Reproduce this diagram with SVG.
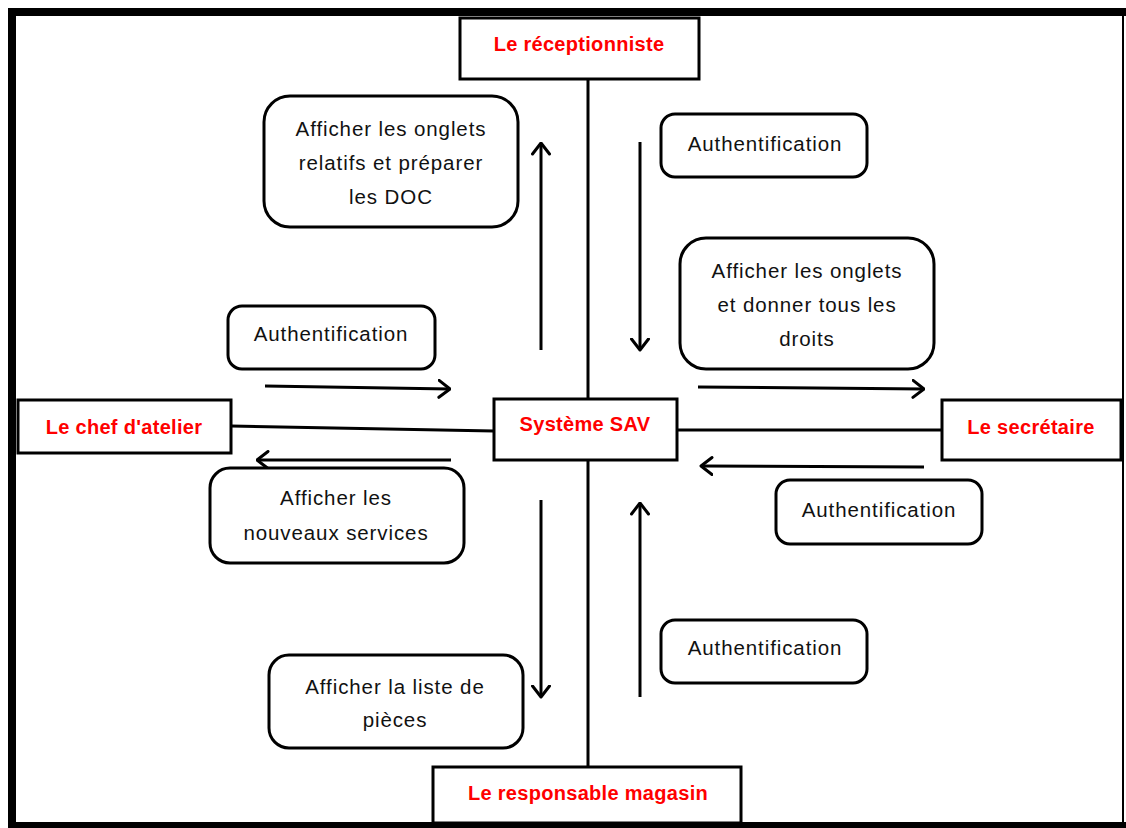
<svg xmlns="http://www.w3.org/2000/svg" width="1126" height="828" viewBox="0 0 1126 828">
  <style>
    .actor { fill: #ffffff; stroke: #000000; stroke-width: 3; }
    .msg { fill: #ffffff; stroke: #000000; stroke-width: 3; }
    .actor-label { font-family: "Liberation Sans", Arial, sans-serif; font-size: 20px; font-weight: bold; fill: #ff0000; text-anchor: middle; dominant-baseline: central; letter-spacing: 0.3px; }
    .msg-label { font-family: "Liberation Sans", Arial, sans-serif; font-size: 20.5px; fill: #111111; text-anchor: middle; letter-spacing: 0.9px; }
    .link { stroke: #000000; stroke-width: 3; fill: none; }
    .flow { stroke: #000000; stroke-width: 3; fill: none; marker-end: url(#open-arrow); }
  </style>
  <defs>
    <marker id="open-arrow" viewBox="0 0 14 20" refX="12.5" refY="10" markerWidth="14" markerHeight="20" markerUnits="userSpaceOnUse" orient="auto">
      <path d="M1.5,1.5 L12.5,10 L1.5,18.5" fill="none" stroke="#000000" stroke-width="3" stroke-linecap="round" stroke-linejoin="round"/>
    </marker>
  </defs>

  <!-- page background and frame -->
  <rect x="0" y="0" width="1126" height="828" fill="#ffffff"/>
  <rect x="8" y="8" width="1118" height="8" fill="#000000"/>
  <rect x="8" y="8" width="8" height="820" fill="#000000"/>
  <rect x="8" y="822" width="1118" height="6" fill="#000000"/>
  <rect x="1122" y="8" width="2" height="820" fill="#000000"/>

  <!-- connectors -->
  <g id="connectors">
    <line class="link" x1="588" y1="79" x2="588" y2="399"/>
    <line class="link" x1="588" y1="460" x2="588" y2="767"/>
    <line class="link" x1="231" y1="426" x2="494" y2="431"/>
    <line class="link" x1="677" y1="430" x2="942" y2="430"/>

    <line class="flow" x1="541" y1="350" x2="541" y2="143"/>
    <line class="flow" x1="640" y1="142" x2="640" y2="350"/>
    <line class="flow" x1="265" y1="386" x2="450" y2="389"/>
    <line class="flow" x1="451" y1="460" x2="257" y2="460"/>
    <line class="flow" x1="698" y1="387" x2="924" y2="389"/>
    <line class="flow" x1="924" y1="467" x2="701" y2="466"/>
    <line class="flow" x1="541" y1="500" x2="541" y2="697"/>
    <line class="flow" x1="640" y1="697" x2="640" y2="503"/>
  </g>

  <!-- actors -->
  <g id="receptionniste">
    <rect class="actor" x="460" y="18" width="239" height="61"/>
    <text class="actor-label" x="579" y="44">Le réceptionniste</text>
  </g>
  <g id="systeme-sav">
    <rect class="actor" x="494" y="399" width="183" height="61"/>
    <text class="actor-label" x="585" y="424">Système SAV</text>
  </g>
  <g id="chef-atelier">
    <rect class="actor" x="18" y="400" width="213" height="53"/>
    <text class="actor-label" x="124" y="427">Le chef d'atelier</text>
  </g>
  <g id="secretaire">
    <rect class="actor" x="942" y="400" width="179" height="60"/>
    <text class="actor-label" x="1031" y="427">Le secrétaire</text>
  </g>
  <g id="responsable-magasin">
    <rect class="actor" x="433" y="767" width="308" height="56"/>
    <text class="actor-label" x="588" y="793">Le responsable magasin</text>
  </g>

  <!-- messages -->
  <g id="msg-onglets-doc">
    <rect class="msg" x="264" y="96" width="254" height="131" rx="26"/>
    <text class="msg-label" x="391" y="136">Afficher les onglets</text>
    <text class="msg-label" x="391" y="170">relatifs et préparer</text>
    <text class="msg-label" x="391" y="204">les DOC</text>
  </g>
  <g id="msg-auth-recep">
    <rect class="msg" x="661" y="114" width="206" height="63" rx="14"/>
    <text class="msg-label" x="765" y="151">Authentification</text>
  </g>
  <g id="msg-onglets-droits">
    <rect class="msg" x="680" y="238" width="254" height="131" rx="26"/>
    <text class="msg-label" x="807" y="278">Afficher les onglets</text>
    <text class="msg-label" x="807" y="312">et donner tous les</text>
    <text class="msg-label" x="807" y="346">droits</text>
  </g>
  <g id="msg-auth-chef">
    <rect class="msg" x="228" y="306" width="207" height="63" rx="14"/>
    <text class="msg-label" x="331" y="341">Authentification</text>
  </g>
  <g id="msg-nouveaux-services">
    <rect class="msg" x="210" y="468" width="254" height="95" rx="20"/>
    <text class="msg-label" x="336" y="505">Afficher les</text>
    <text class="msg-label" x="336" y="540">nouveaux services</text>
  </g>
  <g id="msg-auth-secretaire">
    <rect class="msg" x="776" y="480" width="206" height="64" rx="14"/>
    <text class="msg-label" x="879" y="517">Authentification</text>
  </g>
  <g id="msg-auth-magasin">
    <rect class="msg" x="661" y="620" width="206" height="63" rx="14"/>
    <text class="msg-label" x="765" y="655">Authentification</text>
  </g>
  <g id="msg-liste-pieces">
    <rect class="msg" x="269" y="655" width="254" height="93" rx="20"/>
    <text class="msg-label" x="395" y="694">Afficher la liste de</text>
    <text class="msg-label" x="395" y="727">pièces</text>
  </g>
</svg>
